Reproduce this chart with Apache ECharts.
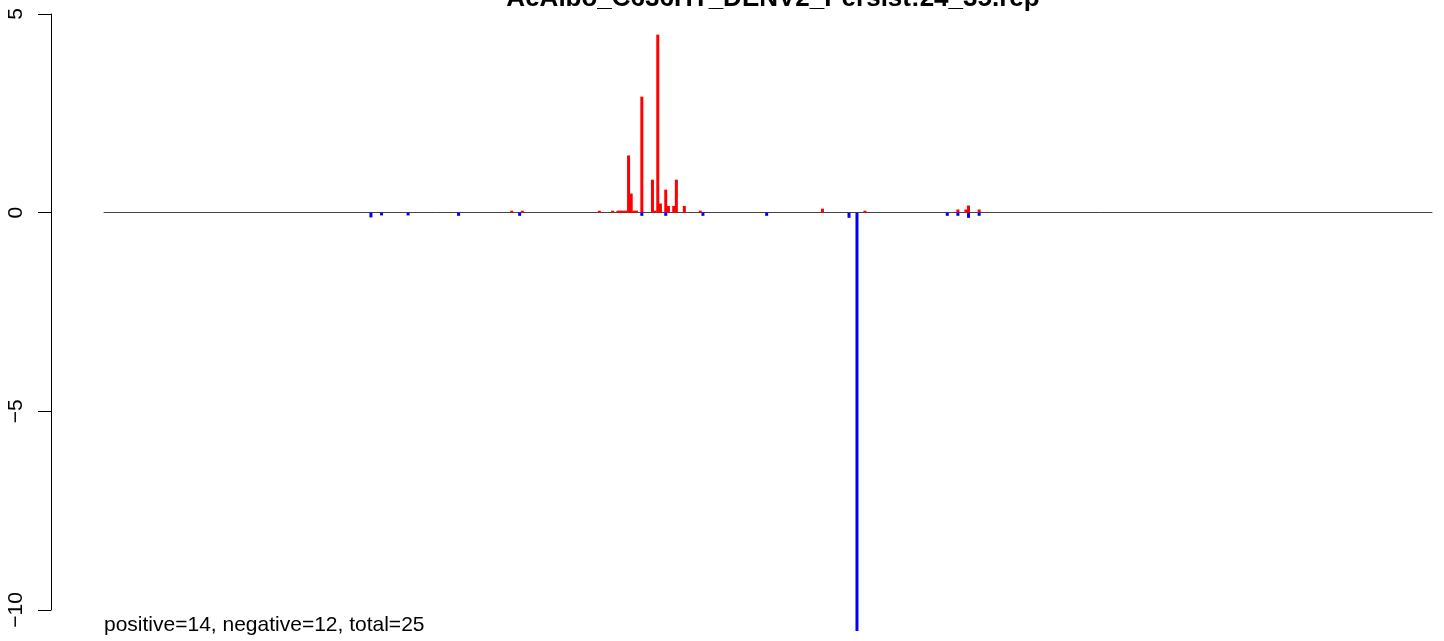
<!DOCTYPE html>
<html>
<head>
<meta charset="utf-8">
<script src="https://cdn.jsdelivr.net/npm/echarts@6/dist/echarts.min.js"></script>
<style>
html,body{margin:0;padding:0;background:#fff;}
#chart{width:1444px;height:641px;}
</style>
</head>
<body>
<div id="chart"></div>
<script>
// ---- data ----
const titleText = 'AeAlbo_C636HT_DENV2_Persist:24_35.rep';
const footnote = 'positive=14, negative=12, total=25';
const nPositions = 500;
const posIndex = [153,157,186,191,193,194,195,196,197,198,199,200,202,206,207,208,209,211,212,214,215,218,224,270,286,321,324,325,329];
const posValue = [0.05,0.05,0.05,0.05,0.05,0.05,0.05,0.05,1.44,0.48,0.05,0.05,2.92,0.83,0.05,4.48,0.23,0.58,0.17,0.17,0.83,0.17,0.05,0.10,0.05,0.08,0.08,0.18,0.08];
const negIndex = [100,104,114,133,156,202,211,225,249,280,283,317,321,325,329];
const negValue = [-0.12,-0.07,-0.07,-0.08,-0.08,-0.08,-0.08,-0.08,-0.08,-0.13,-10.53,-0.08,-0.08,-0.13,-0.08];
const yTicks = [-10,-5,0,5];

// ---- build series arrays ----
const cats = [];
for (let i = 0; i < nPositions; i++) cats.push(String(i));
const posData = new Array(nPositions).fill(null);
const negData = new Array(nPositions).fill(null);
posIndex.forEach((ix, k) => { posData[ix] = posValue[k]; });
negIndex.forEach((ix, k) => { negData[ix] = negValue[k]; });

const chart = echarts.init(document.getElementById('chart'), null, {renderer: 'canvas'});
const FONT = '"Liberation Sans", Arial, Helvetica, sans-serif';
chart.setOption({
  animation: false,
  backgroundColor: '#ffffff',
  title: {
    text: titleText,
    left: 768,
    textAlign: 'center',
    top: -19,
    textStyle: {fontFamily: FONT, fontWeight: 'bold', fontSize: 26, color: '#000'}
  },
  grid: {left: 104, right: 12, top: 14, bottom: 31, containLabel: false},
  xAxis: {
    type: 'category',
    data: cats,
    boundaryGap: true,
    axisLine: {show: true, onZero: true, lineStyle: {color: '#444', width: 1}},
    axisTick: {show: false},
    axisLabel: {show: false},
    splitLine: {show: false}
  },
  yAxis: {
    type: 'value',
    min: yTicks[0],
    max: yTicks[yTicks.length - 1],
    interval: 5,
    offset: 53,
    axisLine: {show: true, lineStyle: {color: '#000', width: 1}},
    axisTick: {show: true, length: 13, lineStyle: {color: '#000', width: 1}},
    axisLabel: {
      rotate: 90,
      margin: 24,
      fontFamily: FONT,
      fontSize: 21,
      color: '#000',
      formatter: v => String(v).replace('-', '\u2212')
    },
    splitLine: {show: false}
  },
  series: [
    {
      type: 'bar', name: 'positive', data: posData, barWidth: 3, barGap: '-100%',
      clip: false, itemStyle: {color: '#ff0000'}, z: 3
    },
    {
      type: 'bar', name: 'negative', data: negData, barWidth: 3, barGap: '-100%',
      clip: false, itemStyle: {color: '#0000ff'}, z: 3
    }
  ],
  graphic: [{
    type: 'text', left: 104, top: 615,
    style: {text: footnote, font: '21px ' + FONT, fill: '#000'}
  }]
});
</script>
</body>
</html>
